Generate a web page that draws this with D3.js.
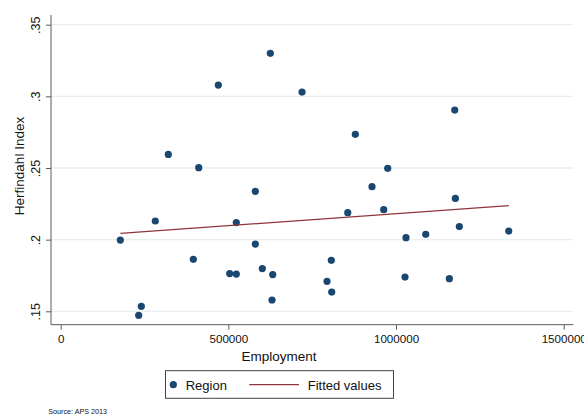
<!DOCTYPE html>
<html>
<head>
<meta charset="utf-8">
<script src="https://cdn.jsdelivr.net/npm/d3@7"></script>
<style>
  html, body { margin: 0; padding: 0; background: #ffffff; }
  svg { display: block; font-family: "Liberation Sans", Arial, Helvetica, sans-serif; }
</style>
</head>
<body>
<svg id="chart" width="584" height="419"></svg>
<script>
// Regional employment vs. Herfindahl concentration index
const employment = [
  625100, 470000, 719700, 1175100, 878600, 320900, 411600, 975200, 928400, 580400,
  1176900, 856000, 963300, 282100, 523700, 1188800, 1336100, 1088600, 1029800, 177800,
  580400, 395500, 807000, 601200, 504000, 523700, 632300, 1026800, 1159000, 794200,
  808200, 630200, 240400, 232600
];
const herfindahl = [
  0.330, 0.3079, 0.303, 0.2904, 0.2735, 0.2595, 0.2502, 0.2498, 0.237, 0.2337,
  0.2288, 0.2188, 0.2209, 0.213, 0.2119, 0.2091, 0.206, 0.2037, 0.2014, 0.1997,
  0.1969, 0.1863, 0.1856, 0.1798, 0.1763, 0.176, 0.1756, 0.1739, 0.1728, 0.1709,
  0.1634, 0.1579, 0.1535, 0.1472
];
// Linear fit, evaluated at the smallest and largest employment values
const fittedX = [177800, 1336100];
const fittedY = [0.2044, 0.2237];

const xTicks = [0, 500000, 1000000, 1500000];
const yTicks = [0.15, 0.2, 0.25, 0.3, 0.35];
const yTickLabels = [".15", ".2", ".25", ".3", ".35"];

const navy = "#1a476f";
const maroon = "#90353b";
const axisColor = "#5a5a5a";
const gridColor = "#e7eff0";
const textColor = "#111";

const frame = { left: 51, right: 573.3, top: 15, bottom: 324.7 };

const svg = d3.select("#chart");

const x = d3.scaleLinear().domain([0, 1500000]).range([60.7, 563.7]);
const y = d3.scaleLinear().domain([0.15, 0.35]).range([311.3, 24.7]);

// horizontal grid lines
svg.append("g").selectAll("line")
  .data(yTicks).join("line")
  .attr("x1", frame.left).attr("x2", frame.right)
  .attr("y1", d => y(d)).attr("y2", d => y(d))
  .attr("stroke", gridColor).attr("stroke-width", 1.3);

// y axis
const yAxis = svg.append("g")
  .attr("transform", `translate(${frame.left},0)`)
  .call(d3.axisLeft(y).tickValues(yTicks).tickSize(5).tickFormat((d, i) => yTickLabels[i]));
yAxis.select(".domain").remove();
yAxis.selectAll(".tick line").attr("stroke", axisColor);
yAxis.selectAll(".tick text")
  .attr("x", 0).attr("y", 0).attr("dy", 0)
  .attr("transform", "translate(-11.5,0) rotate(-90)")
  .attr("text-anchor", "middle")
  .attr("fill", textColor)
  .style("font-size", "12.5px");

// x axis
const xAxis = svg.append("g")
  .attr("transform", `translate(0,${frame.bottom})`)
  .call(d3.axisBottom(x).tickValues(xTicks).tickSize(5).tickFormat(d3.format("d")));
xAxis.select(".domain").remove();
xAxis.selectAll(".tick line").attr("stroke", axisColor);
xAxis.selectAll(".tick text")
  .attr("y", 18.6).attr("dy", 0)
  .attr("fill", textColor)
  .style("font-size", "11.6px");

// axis lines
svg.append("line")
  .attr("x1", frame.left).attr("x2", frame.left)
  .attr("y1", frame.top).attr("y2", frame.bottom)
  .attr("stroke", axisColor).attr("stroke-width", 1);
svg.append("line")
  .attr("x1", frame.left).attr("x2", frame.right)
  .attr("y1", frame.bottom).attr("y2", frame.bottom)
  .attr("stroke", axisColor).attr("stroke-width", 1);

// points
const pts = employment.map((e, i) => ({ e, h: herfindahl[i] }));
svg.append("g").selectAll("circle")
  .data(pts).join("circle")
  .attr("cx", d => x(d.e)).attr("cy", d => y(d.h))
  .attr("r", 3.6)
  .attr("fill", navy);

// fitted line
const line = d3.line().x(d => x(d[0])).y(d => y(d[1]));
svg.append("path")
  .datum(fittedX.map((v, i) => [v, fittedY[i]]))
  .attr("d", line)
  .attr("fill", "none")
  .attr("stroke", maroon)
  .attr("stroke-width", 1.3);

// axis titles
svg.append("text")
  .attr("transform", "translate(23.5,166) rotate(-90)")
  .attr("text-anchor", "middle")
  .attr("fill", textColor)
  .style("font-size", "13.5px")
  .text("Herfindahl Index");
svg.append("text")
  .attr("x", 279).attr("y", 361)
  .attr("text-anchor", "middle")
  .attr("fill", textColor)
  .style("font-size", "13.5px")
  .text("Employment");

// legend
const legend = svg.append("g");
legend.append("rect")
  .attr("x", 165.5).attr("y", 370.7)
  .attr("width", 228).attr("height", 27.6)
  .attr("fill", "#fff").attr("stroke", "#444").attr("stroke-width", 1);
legend.append("circle")
  .attr("cx", 173.3).attr("cy", 384.7).attr("r", 3.6).attr("fill", navy);
legend.append("text")
  .attr("x", 185.7).attr("y", 390.3)
  .attr("fill", textColor).style("font-size", "13px")
  .text("Region");
legend.append("line")
  .attr("x1", 249.3).attr("x2", 299).attr("y1", 384.7).attr("y2", 384.7)
  .attr("stroke", maroon).attr("stroke-width", 1.3);
legend.append("text")
  .attr("x", 307.7).attr("y", 390.3)
  .attr("fill", textColor).style("font-size", "13px")
  .text("Fitted values");

// note
svg.append("text")
  .attr("x", 48.3).attr("y", 413.5)
  .attr("fill", textColor).style("font-size", "7.2px")
  .text("Source: APS 2013");
</script>
</body>
</html>
